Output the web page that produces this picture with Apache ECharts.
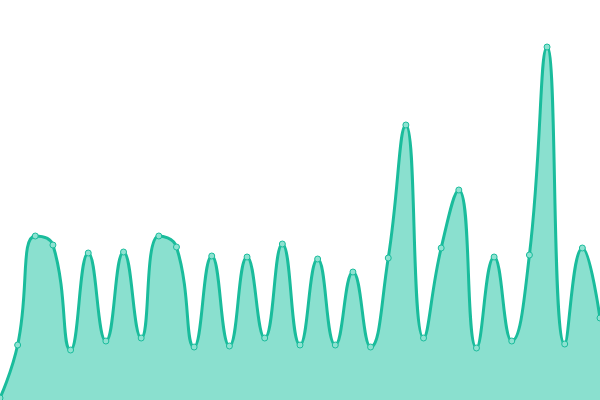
<!DOCTYPE html>
<html>
<head>
<meta charset="utf-8">
<script src="https://cdn.jsdelivr.net/npm/echarts@6/dist/echarts.min.js"></script>
<style>html,body{margin:0;padding:0;background:#fff}#c{width:600px;height:400px}</style>
</head>
<body>
<div id="c"></div>
<script>
const categories = Array.from({length: 35}, (_, i) => 'P' + (i + 1));
const values = [2, 55, 164, 155, 50, 147, 59, 148, 62, 164, 153, 53, 144, 54, 143, 62, 156, 55, 141, 55, 128, 53, 142, 275, 62, 152, 210, 52, 143, 59, 145, 353, 56, 152, 82];
const yMin = 0;
const yMax = 400;

const chart = echarts.init(document.getElementById('c'), null, {renderer: 'canvas'});
chart.setOption({
  animation: false,
  grid: {left: 0, right: 0, top: 0, bottom: 0},
  xAxis: {type: 'category', data: categories, boundaryGap: false, show: false},
  yAxis: {type: 'value', min: yMin, max: yMax, show: false},
  series: [{
    type: 'line',
    data: values,
    smooth: true,
    symbol: 'circle',
    symbolSize: 6,
    itemStyle: {color: '#8ee2d1', borderColor: '#1abc9c', borderWidth: 1},
    lineStyle: {color: '#1abc9c', width: 3},
    areaStyle: {color: '#8ae0cf', opacity: 1}
  }]
});
</script>
</body>
</html>
